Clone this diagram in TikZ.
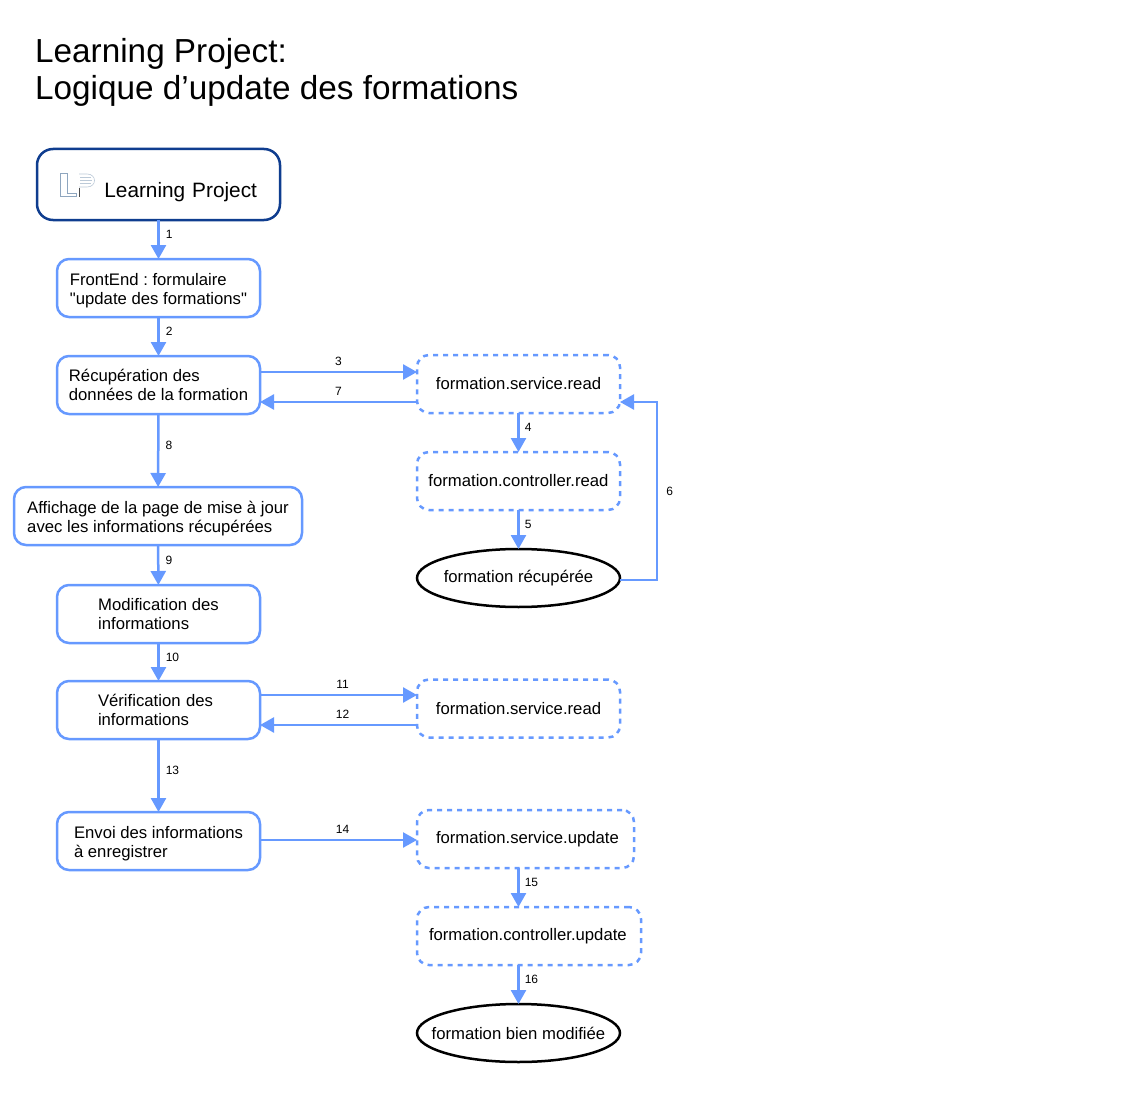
\documentclass[tikz,border=0pt]{standalone}
\usepackage{fontspec}
\setmainfont{Liberation Sans}[Ligatures=TeXOff]
\usetikzlibrary{shapes,positioning,calc,arrows.meta}
\definecolor{flowblue}{HTML}{6699FF}
\definecolor{headblue}{HTML}{0F3D8F}
\definecolor{logoblue}{HTML}{8FA6BF}
\newcommand{\dropline}{\rule{0pt}{18pt}}
\tikzset{
    flowbox/.style={draw=flowblue, line width=2.5pt, rounded corners=12pt, align=left, inner sep=0pt, outer sep=0pt, font=\fontsize{16.7}{19}\selectfont\frenchspacing},
    svcbox/.style={flowbox, dashed, dash pattern=on 5pt off 5pt, align=center},
    endnode/.style={draw, ellipse, line width=2.5pt, inner xsep=-20pt, inner ysep=0pt, outer sep=0pt, minimum width=203pt, minimum height=58pt, font=\fontsize{16.7}{19}\selectfont},
    link/.style={draw=flowblue, line width=2.5pt, -{Triangle[length=14pt,width=15pt]}},
    steplabel/.style={font=\fontsize{12}{14}\selectfont, inner sep=0pt},
    downlabel/.style={steplabel, right=#1, yshift=5pt},
    acrosslabel/.style={steplabel, above=5pt}
}
\begin{document}
\begin{tikzpicture}[x=1pt,y=-1pt]
    \useasboundingbox[fill=white] (0,0) rectangle (1136,1097);
    \node[anchor=north west, align=left, inner sep=0pt, font=\fontsize{33.3}{37}\selectfont] (title) at (35,38) {Learning Project:\\Logique d’update des formations};

    % left column
    \node[draw=headblue, line width=2.5pt, rounded corners=16pt, outer sep=0pt, minimum width=243pt, minimum height=71pt, inner xsep=23pt, inner ysep=0pt, text width=197pt, align=right, font=\fontsize{20.8}{24}\selectfont] (lp) at (158.5,184.5) {\raisebox{-13pt}[0pt][0pt]{Learning Project}};
    \node[flowbox, minimum width=203pt, minimum height=58pt] (front) at (158.5,288) {\dropline FrontEnd : formulaire\\"update des formations"};
    \node[flowbox, minimum width=203pt, minimum height=58pt] (recup) at (158.5,385) {Récupération des\\données de la formation};
    \node[flowbox, minimum width=288pt, minimum height=58pt] (affich) at (158,516) {\dropline Affichage de la page de mise à jour\\avec les informations récupérées};
    \node[flowbox, minimum width=203pt, minimum height=58pt] (modif) at (158.5,614) {Modification des\\informations};
    \node[flowbox, minimum width=203pt, minimum height=58pt, text width=121pt] (verif) at (158.5,710) {Vérification des\\informations};
    \node[flowbox, minimum width=203pt, minimum height=58pt] (envoi) at (158.5,841) {\dropline Envoi des informations\\à enregistrer};

    % right column
    \node[svcbox, minimum width=203pt, minimum height=58pt] (svcread) at (518.5,384) {formation.service.read};
    \node[svcbox, minimum width=203pt, minimum height=58pt] (ctlread) at (518.5,481) {formation.controller.read};
    \node[endnode] (got) at (518.5,578) {formation récupérée};
    \node[svcbox, minimum width=203pt, minimum height=58pt] (svccheck) at (518.5,708.5) {formation.service.read};
    \node[svcbox, minimum width=217pt, minimum height=58pt, text width=179pt, align=left] (svcupd) at (525.5,839) {formation.service.update};
    \node[svcbox, minimum width=224pt, minimum height=58pt, text width=200pt, align=left] (ctlupd) at (529,936) {formation.controller.update};
    \node[endnode] (done) at (518.5,1033) {formation bien modifiée};

    % logo
    \draw[logoblue, line width=.6pt] (60,173) -- (67,173) -- (67,193) -- (76,193) -- (76,196) -- (60,196) -- cycle;
    \draw[logoblue!60, line width=.6pt] (79,174) -- (87,174) .. controls (97,174) and (97,187) .. (87,187) -- (79,187);
    \draw[logoblue!60, line width=.6pt] (80,177) -- (91,177) (80,180) -- (92,180) (80,183) -- (91,183);
    \draw[black!70, line width=.6pt] (79,188) -- (79,197);

    % connectors
    \draw[link] (lp) -- node[downlabel=6pt] {1} (front);
    \draw[link] (front) -- node[downlabel=6pt] {2} (recup);
    \draw[link] (recup) -- node[downlabel=6pt] {8} (affich);
    \draw[link] (affich) -- node[downlabel=6pt] {9} (modif);
    \draw[link] (modif) -- node[downlabel=6pt] {10} (verif);
    \draw[link] (verif) -- node[downlabel=6pt] {13} (envoi);

    \draw[link] (recup.east |- 0,372) -- node[acrosslabel] {3} (svcread.west |- 0,372);
    \draw[link] (svcread.west |- 0,402) -- node[acrosslabel] {7} (recup.east |- 0,402);
    \draw[link] (svcread) -- node[downlabel=5pt] {4} (ctlread);
    \draw[link] (ctlread) -- node[downlabel=5pt] {5} (got);
    \draw[link] (got.east |- 0,580) -- ++(37,0) -- node[steplabel, right=8pt] {6} ++(0,-178) -- (svcread.east |- 0,402);

    \draw[link] (verif.east |- 0,695) -- node[acrosslabel, xshift=4pt] {11} (svccheck.west |- 0,695);
    \draw[link] (svccheck.west |- 0,725) -- node[acrosslabel, xshift=4pt] {12} (verif.east |- 0,725);
    \draw[link] (envoi.east |- 0,840) -- node[acrosslabel, xshift=4pt] {14} (svcupd.west |- 0,840);
    \draw[link] (svcupd.south -| done.north) -- node[downlabel=5pt] {15} (ctlupd.north -| done.north);
    \draw[link] (ctlupd.south -| done.north) -- node[downlabel=5pt] {16} (done);
\end{tikzpicture}
\end{document}
